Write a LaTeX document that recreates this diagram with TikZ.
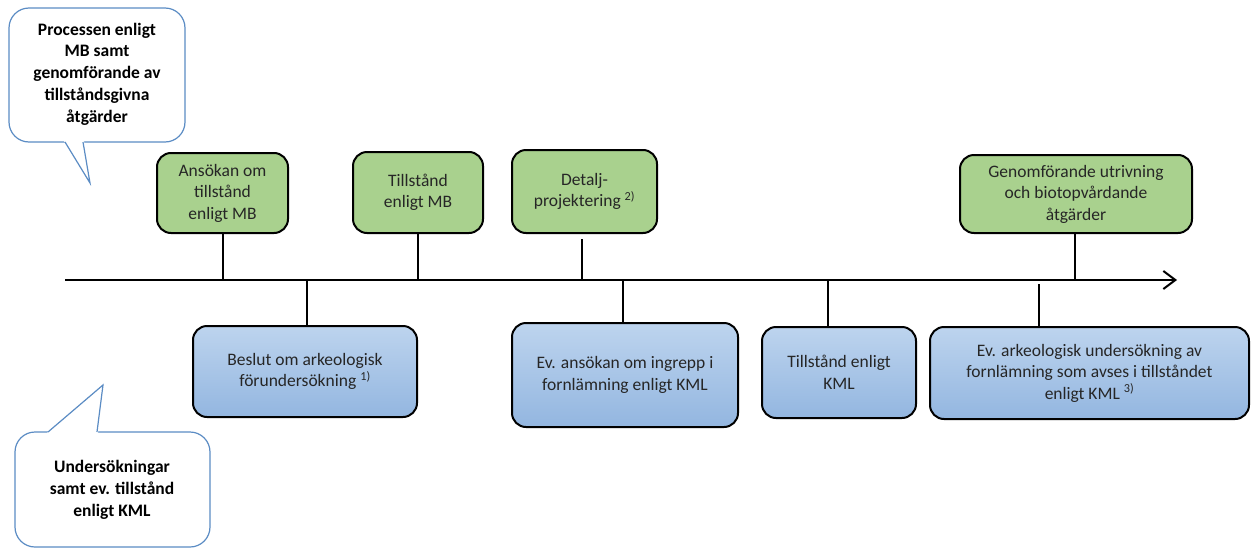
\documentclass[tikz,border=0pt]{standalone}
\usepackage{fontspec}
\setmainfont{Carlito}
\usetikzlibrary{arrows.meta}
\definecolor{boxgreen}{HTML}{A9D18E}
\definecolor{bluetop}{HTML}{BDD4EE}
\definecolor{bluebot}{HTML}{93B6E0}
\definecolor{bubbleline}{HTML}{5B8CC4}
\definecolor{boxtext}{HTML}{262626}

\begin{document}
\begin{tikzpicture}[x=1pt, y=-1pt,
    mbbox/.style={draw=black, line width=2pt, rounded corners=14pt, fill=boxgreen, align=center,
        text=boxtext, font=\fontsize{17.5}{21.5}\selectfont, inner sep=0pt},
    kmlbox/.style={mbbox, top color=bluetop, bottom color=bluebot},
    bubble/.style={draw=bubbleline, line width=1.2pt},
    bubbletext/.style={align=center, text=black, font=\fontsize{17.5}{21.7}\selectfont\bfseries},
    tick/.style={line width=2pt}]
    \useasboundingbox (0,0) rectangle (1253,549);

    % speech bubbles
    \draw [bubble, fill=white, rounded corners=20pt] (9,8) rectangle (185,142);
    \fill [white] (64,141) -- (90,183) -- (84,141) -- cycle;
    \draw [bubble] (65,142) -- (90,183) -- (83,142);
    \node (mbnote) at (97,74) [bubbletext] {Processen enligt\\MB samt\\genomförande av\\tillståndsgivna\\åtgärder};

    \draw [bubble, fill=white, rounded corners=20pt] (15,432) rectangle (210,547);
    \fill [white] (47,433) -- (103,385) -- (98,433) -- cycle;
    \draw [bubble] (48,432) -- (103,385) -- (97,432);
    \node (kmlnote) at (112,490) [bubbletext] {Undersökningar\\samt ev. tillstånd\\enligt KML};

    % time line
    \coordinate (tstart) at (65,280);
    \coordinate (tend) at (1177,280);
    \draw [line width=2pt, -{Straight Barb[length=12pt,width=18pt]}] (tstart) -- (tend);

    % MB boxes
    \node (ansokan) at (222.5,193) [mbbox, minimum width=131pt, minimum height=80pt] {Ansökan om\\tillstånd\\enligt MB};
    \node (tillstMB) at (418,192.5) [mbbox, minimum width=130pt, minimum height=81pt] {Tillstånd\\enligt MB};
    \node (detalj) at (584.5,191.5) [mbbox, minimum width=145pt, minimum height=83pt] {Detalj-\\projektering \textsuperscript{2)}};
    \node (genomf) at (1076,194) [mbbox, minimum width=232pt, minimum height=78pt] {Genomförande utrivning\\och biotopvårdande\\åtgärder};

    % KML boxes
    \node (beslut) at (305,371.5) [kmlbox, minimum width=224pt, minimum height=91pt] {Beslut om arkeologisk\\förundersökning \textsuperscript{1)}};
    \node (evansokan) at (625,375) [kmlbox, minimum width=226pt, minimum height=104pt] {Ev. ansökan om ingrepp i\\fornlämning enligt KML};
    \node (tillstKML) at (839,372.5) [kmlbox, minimum width=154pt, minimum height=91pt] {Tillstånd enligt\\KML};
    \node (evark) at (1089.5,373) [kmlbox, minimum width=319pt, minimum height=92pt] {Ev. arkeologisk undersökning av\\fornlämning som avses i tillståndet\\enligt KML \textsuperscript{3)}};

    % ticks to the time line
    \coordinate (t1) at (223,280);
    \coordinate (t2) at (418,280);
    \coordinate (t3) at (582,280);
    \coordinate (t4) at (1075,280);
    \coordinate (b1) at (307,280);
    \coordinate (b2) at (623,280);
    \coordinate (b3) at (828,280);
    \coordinate (b4) at (1039,284);
    \draw [tick] (ansokan.south -| t1) -- (t1);
    \draw [tick] (tillstMB.south -| t2) -- (t2);
    \draw [tick] ([yshift=-5pt]detalj.south -| t3) -- (t3);
    \draw [tick] (genomf.south -| t4) -- (t4);
    \draw [tick] (b1) -- (beslut.north -| b1);
    \draw [tick] (b2) -- (evansokan.north -| b2);
    \draw [tick] (b3) -- (tillstKML.north -| b3);
    \draw [tick] (b4) -- (evark.north -| b4);
\end{tikzpicture}
\end{document}
